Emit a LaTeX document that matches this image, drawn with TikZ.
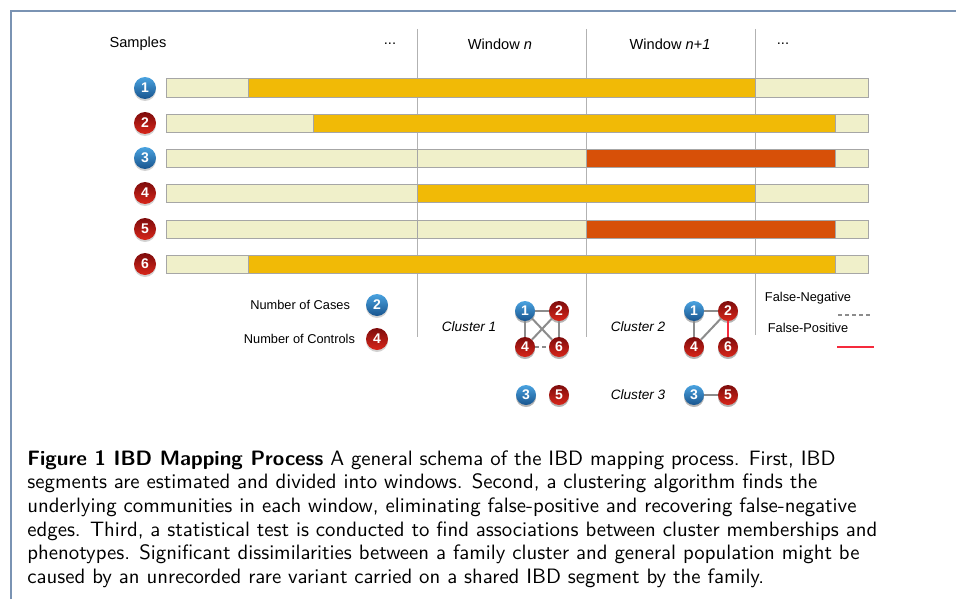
\documentclass[tikz,border=0pt]{standalone}
\usepackage{fontspec}
\newfontfamily\labelfont{Liberation Sans}
\usetikzlibrary{positioning, shadows}

\definecolor{cream}{HTML}{F0F0CA}
\definecolor{ibdyellow}{HTML}{F1BA06}
\definecolor{ibdorange}{HTML}{D75008}
\definecolor{framecol}{HTML}{7A93B3}
\definecolor{edgegray}{HTML}{8C8C8C}
\definecolor{fpred}{HTML}{F52A3C}
\definecolor{casetop}{HTML}{4AA3E0}
\definecolor{casebot}{HTML}{18548E}
\definecolor{ctrltop}{HTML}{7E0C0C}
\definecolor{ctrlbot}{HTML}{D8261A}

\tikzset{
    badge/.style={
        circle,
        inner sep=0pt,
        minimum size=11pt,
        text=white,
        font=\labelfont\bfseries\scriptsize,
        drop shadow={shadow xshift=0pt, shadow yshift=-1pt, opacity=0.35}
    },
    case/.style={badge, top color=casetop, bottom color=casebot},
    control/.style={badge, top color=ctrltop, bottom color=ctrlbot},
    label/.style={font=\labelfont\fontsize{7.3}{9}\selectfont},
    smalllabel/.style={font=\labelfont\fontsize{6.4}{8}\selectfont},
    clusterlabel/.style={font=\labelfont\itshape\fontsize{6.8}{8}\selectfont}
}

\begin{document}
\begin{tikzpicture}[
    x=0.5pt,y=-0.5pt,
    mybar/.style={draw=black!35, line width=0.5pt},
    mywin/.style={draw=black!30, line width=0.5pt},
    mynode/.style={badge, minimum size=10pt},
    myedge/.style={draw=edgegray, line width=1pt},
    myfalse/.style={myedge, dashed, dash pattern=on 2pt off 1.5pt},
    myfp/.style={draw=fpred, line width=1pt}
]
\useasboundingbox (0,0) rectangle (956,599);

% frame
\draw[framecol, line width=1pt] (11,599) -- (11,11) -- (956,11);

% window borders
\draw[mywin] (417,29) -- (417,337);
\draw[mywin] (586,29) -- (586,337);
\draw[mywin] (755,29) -- (755,335);

% header
\node[label] (hsamples) at (138,44) {Samples};
\node[label] (hdots1)   at (390,44) {...};
\node[label] (hwin)     at (500,44) {Window \textit{n}};
\node[label] (hwinnext) at (670,44) {Window \textit{n+1}};
\node[label] (hdots2)   at (783,44) {...};

% sample 1
\draw[mybar, fill=cream]     (166,79) rectangle (248,97);
\draw[mybar, fill=ibdyellow] (248,79) rectangle (755,97);
\draw[mybar, fill=cream]     (755,79) rectangle (868,97);

% sample 2
\draw[mybar, fill=cream]     (166,114) rectangle (313,132);
\draw[mybar, fill=ibdyellow] (313,114) rectangle (835,132);
\draw[mybar, fill=cream]     (835,114) rectangle (868,132);

% sample 3
\draw[mybar, fill=cream]     (166,149) rectangle (417,167);
\draw[mybar, fill=cream]     (417,149) rectangle (586,167);
\draw[mybar, fill=ibdorange] (586,149) rectangle (835,167);
\draw[mybar, fill=cream]     (835,149) rectangle (868,167);

% sample 4
\draw[mybar, fill=cream]     (166,184) rectangle (417,202);
\draw[mybar, fill=ibdyellow] (417,184) rectangle (755,202);
\draw[mybar, fill=cream]     (755,184) rectangle (868,202);

% sample 5
\draw[mybar, fill=cream]     (166,220) rectangle (417,238);
\draw[mybar, fill=cream]     (417,220) rectangle (586,238);
\draw[mybar, fill=ibdorange] (586,220) rectangle (835,238);
\draw[mybar, fill=cream]     (835,220) rectangle (868,238);

% sample 6
\draw[mybar, fill=cream]     (166,255) rectangle (248,273);
\draw[mybar, fill=ibdyellow] (248,255) rectangle (835,273);
\draw[mybar, fill=cream]     (835,255) rectangle (868,273);

% sample badges
\node[case]    (s1) at (145,88)  {1};
\node[control] (s2) at (145,123) {2};
\node[case]    (s3) at (145,158) {3};
\node[control] (s4) at (145,193) {4};
\node[control] (s5) at (145,229) {5};
\node[control] (s6) at (145,264) {6};

% legend for badges
\node[case]    (lcase) at (377,305) {2};
\node[control] (lctrl) at (377,339) {4};
\node[smalllabel, anchor=east] (tcase) at (357,305) {Number of Cases};
\node[smalllabel, anchor=east] (tctrl) at (362,339) {Number of Controls};

% window n clusters
\node[clusterlabel] (c1) at (469,327) {Cluster 1};
\node[case, mynode]    (a1) at (525,311) {1};
\node[control, mynode] (a2) at (559,311) {2};
\node[control, mynode] (a4) at (525,347) {4};
\node[control, mynode] (a6) at (559,347) {6};
\draw[myedge] (a1) -- (a2);
\draw[myedge] (a1) -- (a4);
\draw[myedge] (a2) -- (a6);
\draw[myedge] (a1) -- (a6);
\draw[myedge] (a2) -- (a4);
\draw[myfalse] (a4) -- (a6);
\node[case, mynode]    (a3) at (526,395) {3};
\node[control, mynode] (a5) at (559,395) {5};

% window n+1 clusters
\node[clusterlabel] (c2) at (638,327) {Cluster 2};
\node[case, mynode]    (b1) at (694,311) {1};
\node[control, mynode] (b2) at (728,311) {2};
\node[control, mynode] (b4) at (694,347) {4};
\node[control, mynode] (b6) at (728,347) {6};
\draw[myedge] (b1) -- (b2);
\draw[myedge] (b1) -- (b4);
\draw[myedge] (b2) -- (b4);
\draw[myfp] (b2) -- (b6);
\node[clusterlabel] (c3) at (638,395) {Cluster 3};
\node[case, mynode]    (b3) at (694,395) {3};
\node[control, mynode] (b5) at (728,395) {5};
\draw[myedge] (b3) -- (b5);

% edge legend
\node[smalllabel] (tfn) at (808,298) {False-Negative};
\coordinate (fn1) at (838,315);
\coordinate (fn2) at (871,315);
\draw[myfalse, line width=0.6pt] (fn1) -- (fn2);
\node[smalllabel] (tfp) at (808,328) {False-Positive};
\coordinate (fp1) at (837,347);
\coordinate (fp2) at (874,347);
\draw[myfp] (fp1) -- (fp2);

% caption
\node[anchor=north west, inner sep=0pt, align=left, font=\sffamily\fontsize{10.4}{11.8}\selectfont] (caption) at (27,450)
{\textbf{Figure 1 IBD Mapping Process} A general schema of the IBD mapping process. First, IBD\\
segments are estimated and divided into windows. Second, a clustering algorithm finds the\\
underlying communities in each window, eliminating false-positive and recovering false-negative\\
edges. Third, a statistical test is conducted to find associations between cluster memberships and\\
phenotypes. Significant dissimilarities between a family cluster and general population might be\\
caused by an unrecorded rare variant carried on a shared IBD segment by the family.};

\end{tikzpicture}
\end{document}
